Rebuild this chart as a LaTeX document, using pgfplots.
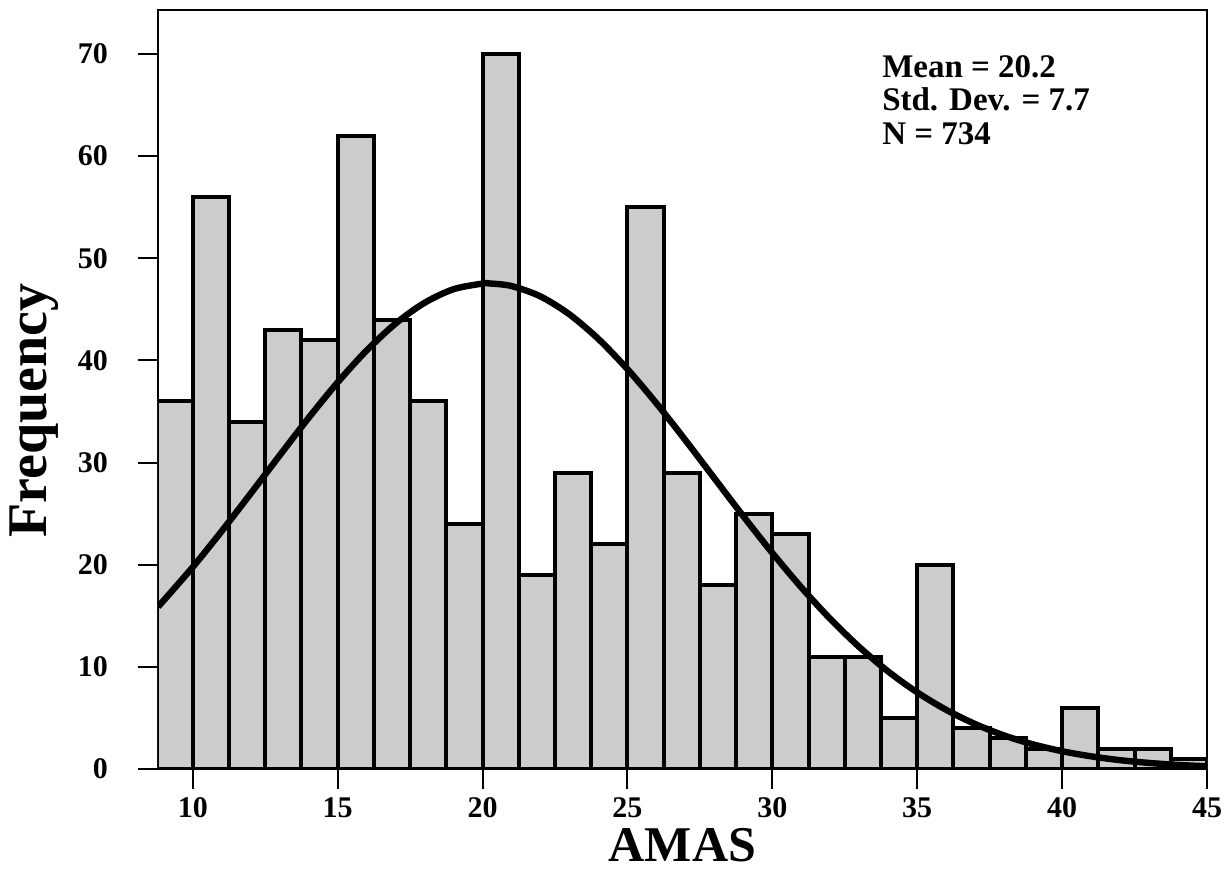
\documentclass[border=0pt]{standalone}
\usepackage{pgfplots}
\pgfplotsset{compat=1.18}
\usepackage{fontspec}
\setmainfont{Liberation Serif}
\definecolor{barfill}{HTML}{CCCCCC}

\newcommand{\tickfont}{\fontsize{15bp}{17bp}\selectfont\bfseries}

\begin{document}
\begin{tikzpicture}
  % page frame (reference is 1227x870 px, 1 px = 0.5 bp)
  \useasboundingbox (-79bp,-50.5bp) rectangle (534.5bp,384.5bp);
  \begin{axis}[
      scale only axis,
      width=524.5bp, height=379.5bp,
      xmin=8.8, xmax=45,
      ymin=0, ymax=74.3,
      xtick={10,15,...,45},
      ytick={0,10,...,70},
      tick align=outside,
      xtick pos=bottom, ytick pos=left,
      major tick length=10bp,
      axis line style={line width=1.3bp},
      tick style={line width=1bp, black},
      /pgf/number format/assume math mode=true,
      ticklabel style={font=\tickfont},
      xticklabel style={yshift=-1bp},
      yticklabel style={xshift=-11.5bp},
      xlabel={AMAS},
      ylabel={Frequency},
      xlabel style={font=\fontsize{25bp}{27bp}\selectfont\bfseries, yshift=2bp},
      ylabel style={font=\fontsize{28bp}{30bp}\selectfont\bfseries, at={(ticklabel cs:0.472,3bp)}},
      clip=true,
    ]
    % histogram, bin width 1.25 (last point closes the last bin)
    \addplot[ybar interval, fill=barfill, draw=black, line width=2bp]
      coordinates {
        (8.75,36) (10,56) (11.25,34) (12.5,43) (13.75,42)
        (15,62) (16.25,44) (17.5,36) (18.75,24) (20,70)
        (21.25,19) (22.5,29) (23.75,22) (25,55) (26.25,29)
        (27.5,18) (28.75,25) (30,23) (31.25,11) (32.5,11)
        (33.75,5) (35,20) (36.25,4) (37.5,3) (38.75,2)
        (40,6) (41.25,2) (42.5,2) (43.75,1) (45,1)
      };
    % normal curve
    \addplot[smooth, line width=3.2bp, black]
      coordinates {
        (8.8,15.89) (9,16.51) (10,19.77) (11,23.29) (12,26.97)
        (13,30.70) (14,34.38) (15,37.85) (16,40.97) (17,43.61)
        (18,45.64) (19,46.97) (20,47.52) (20.2,47.54) (21,47.28)
        (22,46.26) (23,44.50) (24,42.09) (25,39.14) (26,35.80)
        (27,32.19) (28,28.46) (29,24.74) (30,21.15) (31,17.78)
        (32,14.69) (33,11.94) (34,9.54) (35,7.50) (36,5.79)
        (37,4.40) (38,3.28) (39,2.41) (40,1.74) (41,1.24)
        (42,0.864) (43,0.593) (44,0.400) (45,0.266)
      };
    \node[anchor=base west, inner sep=0, font=\fontsize{16.5bp}{17bp}\selectfont\bfseries]
      at (axis cs:33.78,67.74) {Mean = 20.2};
    \node[anchor=base west, inner sep=0, font=\fontsize{16.5bp}{17bp}\selectfont\bfseries]
      at (axis cs:33.78,64.42) {Std. Dev. = 7.7};
    \node[anchor=base west, inner sep=0, font=\fontsize{16.5bp}{17bp}\selectfont\bfseries]
      at (axis cs:33.78,61.09) {N = 734};
  \end{axis}
\end{tikzpicture}
\end{document}
